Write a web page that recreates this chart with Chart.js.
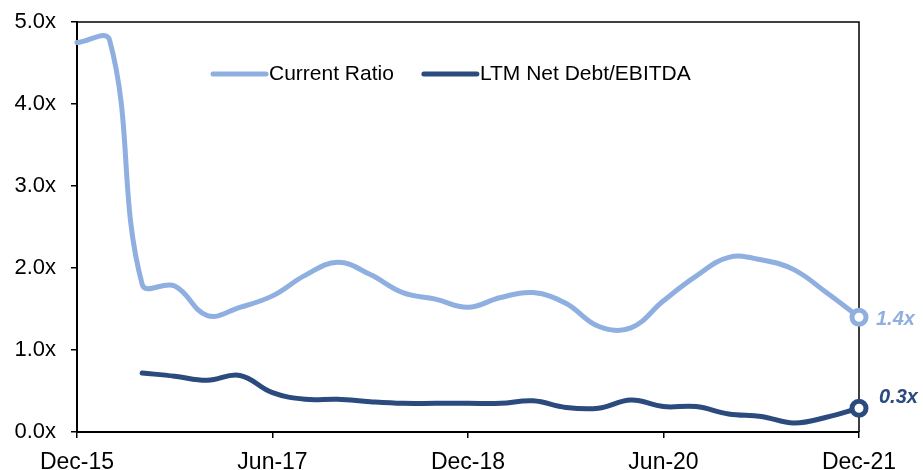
<!DOCTYPE html>
<html>
<head>
<meta charset="utf-8">
<script src="https://cdn.jsdelivr.net/npm/chart.js@4.4.1/dist/chart.umd.min.js"></script>
<style>
  html, body { margin: 0; padding: 0; background: #ffffff; }
  #wrap { width: 923px; height: 470px; position: relative; }
</style>
</head>
<body>
<div id="wrap"><canvas id="ratios"></canvas></div>
<script>
// Quarter ends, Dec-15 .. Dec-21
const QUARTERS = [
  'Dec-15', 'Mar-16', 'Jun-16', 'Sep-16',
  'Dec-16', 'Mar-17', 'Jun-17', 'Sep-17',
  'Dec-17', 'Mar-18', 'Jun-18', 'Sep-18',
  'Dec-18', 'Mar-19', 'Jun-19', 'Sep-19',
  'Dec-19', 'Mar-20', 'Jun-20', 'Sep-20',
  'Dec-20', 'Mar-21', 'Jun-21', 'Sep-21',
  'Dec-21',
];

const CURRENT_RATIO = [
  4.75, 4.78, 1.80, 1.78,
  1.42, 1.52, 1.66, 1.91,
  2.07, 1.92, 1.70, 1.62,
  1.52, 1.64, 1.70, 1.57,
  1.29, 1.27, 1.60, 1.90,
  2.13, 2.10, 1.98, 1.70,
  1.40,
];

const NET_DEBT_EBITDA = [
  null, null, 0.72, 0.68,
  0.63, 0.69, 0.48, 0.40,
  0.40, 0.37, 0.35, 0.35,
  0.35, 0.35, 0.38, 0.30,
  0.29, 0.39, 0.31, 0.31,
  0.22, 0.19, 0.11, 0.18,
  0.29,
];

const Y_TICKS = [0, 1, 2, 3, 4, 5];
const LABEL_EVERY = 6;

const COLORS = {
  light: '#8FAFE1',
  dark: '#2B4A7E',
  axis: '#000000',
  text: '#000000',
};

const FONT = '"Liberation Sans", Arial, sans-serif';
const lastIdx = QUARTERS.length - 1;

const endPoint = (n) => QUARTERS.map((_, i) => (i === n ? 7 : 0));

// top/right frame of the plot box
const framePlugin = {
  id: 'frame',
  beforeDatasetsDraw(chart) {
    const { ctx, chartArea: a } = chart;
    ctx.save();
    ctx.strokeStyle = COLORS.axis;
    ctx.lineWidth = 1.5;
    ctx.beginPath();
    ctx.moveTo(a.left, a.top);
    ctx.lineTo(a.right, a.top);
    ctx.lineTo(a.right, a.bottom);
    ctx.stroke();
    ctx.restore();
  },
};

// legend row inside the plot, plus the end-of-series value tags
const overlayPlugin = {
  id: 'overlay',
  afterDatasetsDraw(chart) {
    const { ctx } = chart;
    ctx.save();

    // legend
    ctx.font = '21px ' + FONT;
    ctx.textBaseline = 'middle';
    ctx.textAlign = 'left';
    let x = 213;
    const y = 74;
    chart.data.datasets.forEach((ds) => {
      ctx.strokeStyle = ds.borderColor;
      ctx.lineWidth = 5;
      ctx.lineCap = 'round';
      ctx.beginPath();
      ctx.moveTo(x, y);
      ctx.lineTo(x + 53, y);
      ctx.stroke();
      ctx.fillStyle = COLORS.text;
      ctx.fillText(ds.label, x + 56, y);
      x += 56 + ctx.measureText(ds.label).width + 30;
    });

    // value tags at the last quarter
    ctx.font = 'italic bold 20px ' + FONT;
    const xs = chart.scales.x;
    const ys = chart.scales.y;
    const px = xs.getPixelForValue(lastIdx);

    const cr = CURRENT_RATIO[lastIdx];
    ctx.fillStyle = COLORS.light;
    ctx.fillText(cr.toFixed(1) + 'x', px + 17, ys.getPixelForValue(cr) + 2);

    const nd = NET_DEBT_EBITDA[lastIdx];
    ctx.fillStyle = COLORS.dark;
    ctx.fillText(nd.toFixed(1) + 'x', px + 20, ys.getPixelForValue(nd) - 11);

    ctx.restore();
  },
};

new Chart(document.getElementById('ratios'), {
  type: 'line',
  data: {
    labels: QUARTERS,
    datasets: [
      {
        label: 'Current Ratio',
        data: CURRENT_RATIO,
        borderColor: COLORS.light,
        backgroundColor: '#ffffff',
        borderWidth: 5,
        borderCapStyle: 'round',
        borderJoinStyle: 'round',
        tension: 0.4,
        pointRadius: endPoint(lastIdx),
        pointBorderWidth: 5,
        pointBorderColor: COLORS.light,
        pointBackgroundColor: '#ffffff',
        clip: false,
      },
      {
        label: 'LTM Net Debt/EBITDA',
        data: NET_DEBT_EBITDA,
        borderColor: COLORS.dark,
        backgroundColor: '#ffffff',
        borderWidth: 5,
        borderCapStyle: 'round',
        borderJoinStyle: 'round',
        tension: 0.4,
        pointRadius: endPoint(lastIdx),
        pointBorderWidth: 5,
        pointBorderColor: COLORS.dark,
        pointBackgroundColor: '#ffffff',
        clip: false,
      },
    ],
  },
  options: {
    responsive: true,
    maintainAspectRatio: false,
    animation: false,
    layout: {
      padding: { left: 0, right: 64, top: 22, bottom: 0 },
    },
    plugins: {
      legend: { display: false },
      tooltip: { enabled: false },
    },
    scales: {
      x: {
        offset: false,
        afterFit: (scale) => {
          scale.height = 38;
          scale.paddingLeft = 0;
          scale.paddingRight = 0;
        },
        border: { display: true, color: COLORS.axis, width: 2 },
        grid: {
          drawOnChartArea: false,
          drawTicks: true,
          tickLength: 6,
          color: COLORS.axis,
          lineWidth: 1.5,
        },
        ticks: {
          autoSkip: false,
          maxRotation: 0,
          padding: 11,
          color: COLORS.text,
          font: { family: FONT, size: 23 },
          callback: (v, i) => (i % LABEL_EVERY === 0 ? QUARTERS[i] : null),
        },
      },
      y: {
        min: Y_TICKS[0],
        max: Y_TICKS[Y_TICKS.length - 1],
        afterFit: (scale) => {
          scale.width = 77;
          scale.paddingTop = 0;
          scale.paddingBottom = 0;
        },
        afterBuildTicks: (scale) => { scale.ticks = Y_TICKS.map((v) => ({ value: v })); },
        border: { display: true, color: COLORS.axis, width: 2 },
        grid: {
          drawOnChartArea: false,
          drawTicks: true,
          tickLength: 6,
          color: COLORS.axis,
          lineWidth: 1.5,
        },
        ticks: {
          padding: 15,
          color: COLORS.text,
          font: { family: FONT, size: 22 },
          callback: (v) => v.toFixed(1) + 'x',
        },
      },
    },
  },
  plugins: [framePlugin, overlayPlugin],
});
</script>
</body>
</html>
